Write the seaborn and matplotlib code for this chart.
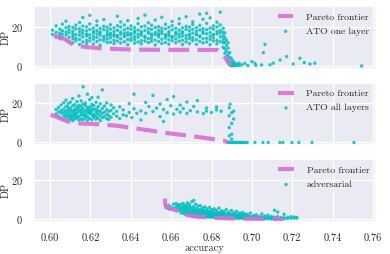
import pandas as pd
import matplotlib
matplotlib.use("Agg")
import matplotlib.pyplot as plt
import seaborn as sns

# pareto frontiers (accuracy, DP)
one_front_acc = [0.6020, 0.6045, 0.6075, 0.6090, 0.6110, 0.6140, 0.6180, 0.6250, 0.6330,
                 0.6420, 0.6550, 0.6700, 0.6830, 0.6850, 0.6870, 0.6885, 0.6895]
one_front_dp = [15.4, 14.6, 13.6, 12.4, 11.2, 10.2, 9.6, 9.0, 8.6,
                8.3, 8.2, 8.2, 8.1, 6.5, 4.0, 2.0, 0.2]

all_front_acc = [0.6003, 0.6030, 0.6053, 0.6080, 0.6102, 0.6152, 0.6243, 0.6333, 0.6416,
                 0.6530, 0.6578, 0.6677, 0.6776, 0.6858, 0.6883]
all_front_dp = [14.1, 13.2, 12.1, 11.0, 10.3, 9.7, 9.3, 8.5, 7.3,
                5.6, 4.8, 3.6, 2.2, 1.0, 0.0]

adv_front_acc = [0.6570, 0.6570, 0.6572, 0.6586, 0.6600, 0.6627, 0.6652, 0.6700, 0.6726,
                 0.6826, 0.6940, 0.7156]
adv_front_dp = [10.4, 8.5, 7.0, 5.6, 5.2, 4.4, 2.8, 1.6, 1.2, 0.6, 0.2, 0.05]

# ATO one layer runs: accuracy -> DP values read column by column
one_layer_cols = [
    (0.6012, [16.0, 18.2]),
    (0.6030, [14.8, 17.1, 20.4]),
    (0.6048, [15.5, 13.9, 18.8, 16.7]),
    (0.6061, [17.9, 14.4, 16.2, 21.3]),
    (0.6079, [13.2, 15.8, 19.5, 17.3, 22.8]),
    (0.6094, [12.5, 16.9, 14.6, 18.4, 20.1]),
    (0.6113, [11.8, 15.2, 17.7, 13.9, 19.6, 16.4]),
    (0.6128, [14.1, 18.9, 12.9, 16.0, 20.8]),
    (0.6146, [10.9, 15.7, 17.4, 13.5, 19.0, 22.1]),
    (0.6162, [14.8, 16.6, 12.2, 18.1, 20.3, 24.7]),
    (0.6181, [13.0, 17.8, 15.3, 19.9, 11.5, 16.1]),
    (0.6197, [15.9, 12.7, 18.6, 14.2, 21.4, 25.8]),
    (0.6215, [16.8, 13.6, 19.3, 11.2, 17.5, 15.0]),
    (0.6232, [14.5, 18.0, 12.4, 20.7, 16.3, 22.9]),
    (0.6248, [17.2, 13.3, 15.6, 19.1, 10.6, 16.9]),
    (0.6266, [15.1, 18.5, 12.8, 20.2, 14.0, 23.6]),
    (0.6283, [16.4, 13.7, 17.9, 11.9, 19.7, 15.4]),
    (0.6299, [14.3, 18.8, 12.1, 16.7, 21.0, 15.8]),
    (0.6317, [17.6, 13.1, 19.4, 15.2, 11.4, 16.0]),
    (0.6334, [15.5, 12.6, 18.2, 20.5, 14.7, 25.3]),
    (0.6350, [16.2, 13.8, 19.8, 11.7, 17.3, 22.4]),
    (0.6368, [14.9, 18.4, 12.3, 16.6, 20.9, 15.3]),
    (0.6385, [17.0, 13.4, 19.2, 15.7, 10.8, 23.1]),
    (0.6401, [15.8, 12.9, 18.7, 14.1, 20.4, 16.5]),
    (0.6419, [16.9, 13.5, 17.8, 11.6, 19.5, 15.0]),
    (0.6436, [14.6, 18.3, 12.2, 16.1, 21.6, 24.2]),
    (0.6452, [17.4, 13.0, 19.9, 15.6, 11.3, 16.8]),
    (0.6470, [15.2, 12.7, 18.0, 20.3, 14.4, 25.9]),
    (0.6487, [16.7, 13.9, 19.0, 11.9, 17.2, 22.0]),
    (0.6503, [14.0, 18.6, 12.5, 16.3, 20.8, 15.5]),
    (0.6521, [17.1, 13.2, 19.6, 15.9, 10.7, 23.4]),
    (0.6538, [15.7, 12.4, 18.1, 14.8, 20.0, 16.4]),
    (0.6554, [16.5, 13.6, 17.7, 11.5, 19.3, 24.8]),
    (0.6572, [14.2, 18.9, 12.0, 16.0, 21.2, 15.1]),
    (0.6589, [17.5, 13.3, 19.7, 15.4, 11.1, 16.6]),
    (0.6605, [15.0, 12.8, 18.4, 20.6, 14.5, 22.7]),
    (0.6623, [16.8, 13.7, 19.1, 11.8, 17.0, 15.7]),
    (0.6640, [14.7, 18.2, 12.6, 16.2, 21.5, 24.0]),
    (0.6656, [17.3, 13.1, 19.4, 15.3, 10.9, 16.9]),
    (0.6674, [15.6, 12.3, 18.6, 14.0, 20.2, 25.1]),
    (0.6691, [16.1, 13.8, 17.9, 11.4, 19.8, 15.2]),
    (0.6707, [14.4, 18.7, 12.9, 16.7, 21.1, 22.5]),
    (0.6725, [17.7, 13.4, 19.5, 15.8, 11.0, 16.3]),
    (0.6742, [15.3, 12.5, 18.3, 20.7, 14.9, 26.4]),
    (0.6758, [16.6, 13.9, 19.0, 11.7, 17.4, 23.8]),
    (0.6776, [14.1, 18.5, 12.2, 16.4, 21.7, 26.8]),
    (0.6793, [17.0, 13.5, 19.3, 15.1, 10.8, 24.5]),
    (0.6809, [15.9, 12.7, 18.8, 14.3, 20.4, 16.0]),
    (0.6827, [16.3, 13.0, 17.6, 11.3, 19.9, 22.3]),
    (0.6843, [14.8, 18.1, 12.4, 16.8, 20.9, 27.4]),
    (0.6858, [15.4, 17.2, 13.6, 19.2, 11.9, 9.5]),
    (0.6866, [14.5, 12.0, 16.8, 8.8, 6.5]),
    (0.6874, [10.6, 7.4, 4.9, 13.2, 2.8]),
    (0.6882, [9.1, 5.6, 3.4, 1.5, 11.8]),
    (0.6890, [6.8, 2.1, 0.6, 4.2, 1.0]),
    (0.6898, [0.3, 1.8, 3.9, 0.1, 0.8]),
    (0.6906, [0.2, 1.2, 0.5, 2.6]),
    (0.6915, [0.4, 0.1, 1.6]),
    (0.6925, [0.3, 0.9]),
    (0.6937, [0.2, 1.4]),
    (0.6950, [0.5]),
    (0.6965, [1.3]),
    (0.6980, [0.2]),
    (0.7000, [2.2]),
    (0.7015, [1.3]),
    (0.7020, [0.3]),
    (0.7048, [0.5]),
    (0.7057, [6.8]),
    (0.7065, [11.0]),
    (0.7090, [0.6]),
    (0.7106, [1.4]),
    (0.7140, [3.0]),
    (0.7172, [4.8]),
    (0.7205, [1.0]),
    (0.7238, [3.9]),
    (0.7260, [1.7]),
    (0.7288, [1.0]),
    (0.7312, [1.4]),
    (0.7544, [0.0]),
]

# ATO all layers runs
all_layers_cols = [
    (0.6030, [14.5, 16.8]),
    (0.6042, [13.2, 17.9, 15.6]),
    (0.6055, [12.4, 14.9, 16.3, 19.2]),
    (0.6068, [11.8, 13.7, 15.4, 17.1, 20.3]),
    (0.6079, [12.9, 14.3, 16.0, 18.4, 21.6]),
    (0.6090, [11.5, 13.4, 15.1, 16.7, 18.0, 19.8]),
    (0.6101, [12.2, 14.0, 15.8, 17.4, 20.6, 13.1]),
    (0.6112, [11.1, 12.8, 14.6, 16.2, 18.7, 22.4]),
    (0.6122, [11.9, 13.6, 15.3, 17.0, 19.3, 14.2]),
    (0.6133, [12.5, 14.8, 16.5, 18.1, 20.9, 13.0]),
    (0.6143, [11.4, 13.3, 15.9, 17.6, 19.0, 23.7]),
    (0.6154, [12.0, 14.1, 16.6, 18.5, 21.2, 15.0]),
    (0.6164, [11.7, 13.8, 15.5, 17.3, 19.6, 28.4]),
    (0.6175, [12.6, 14.4, 16.1, 18.8, 20.1, 13.5]),
    (0.6185, [11.3, 13.1, 15.2, 17.8, 24.6, 16.9]),
    (0.6196, [12.3, 14.7, 16.4, 18.2, 21.8, 15.6]),
    (0.6207, [11.6, 13.9, 15.7, 17.5, 19.4, 22.9]),
    (0.6217, [12.8, 14.2, 16.8, 18.9, 13.4]),
    (0.6228, [11.9, 13.5, 15.4, 17.1, 20.5]),
    (0.6238, [12.4, 14.6, 16.2, 18.3, 23.1]),
    (0.6249, [11.2, 13.8, 15.9, 19.7]),
    (0.6259, [12.7, 14.9, 17.4, 26.8]),
    (0.6270, [13.2, 15.5, 18.6]),
    (0.6281, [12.1, 14.3, 16.7, 20.2]),
    (0.6291, [13.7, 15.8, 11.8]),
    (0.6302, [12.9, 16.4, 19.1]),
    (0.6315, [14.6, 17.7]),
    (0.6330, [13.4, 15.9]),
    (0.6345, [12.2, 18.2]),
    (0.6362, [16.6, 14.1]),
    (0.6378, [13.6]),
    (0.6392, [15.3, 19.8]),
    (0.6405, [12.7]),
    (0.6416, [24.6, 17.2]),
    (0.6430, [14.9]),
    (0.6450, [11.5, 16.1]),
    (0.6474, [14.9, 20.4]),
    (0.6490, [18.3]),
    (0.6510, [24.0, 15.8]),
    (0.6528, [17.5]),
    (0.6545, [13.2, 19.6]),
    (0.6562, [10.7, 16.8]),
    (0.6580, [21.9, 15.2]),
    (0.6598, [18.7]),
    (0.6612, [14.5, 23.4]),
    (0.6628, [16.9]),
    (0.6645, [19.1, 15.4]),
    (0.6660, [17.3]),
    (0.6678, [14.8, 20.6]),
    (0.6695, [16.2]),
    (0.6712, [18.4]),
    (0.6730, [15.6, 21.3]),
    (0.6760, [14.7]),
    (0.6775, [17.6, 16.0]),
    (0.6800, [15.3]),
    (0.6825, [18.1, 16.6]),
    (0.6848, [15.9]),
    (0.6880, [0.0]),
    (0.6886, [0.0]),
    (0.6888, [17.7, 13.6, 7.6, 3.4]),
    (0.6892, [19.5, 0.0]),
    (0.6899, [0.0]),
    (0.6900, [15.2, 9.7, 4.2, 1.7]),
    (0.6906, [0.0]),
    (0.6910, [16.0, 12.0]),
    (0.6912, [0.0]),
    (0.6919, [0.0]),
    (0.6925, [0.0]),
    (0.6932, [0.0]),
    (0.6938, [0.0]),
    (0.6945, [0.0]),
    (0.6952, [0.0]),
    (0.6960, [0.0]),
    (0.6968, [0.0]),
    (0.6977, [0.0]),
    (0.7015, [0.0]),
    (0.7055, [0.0]),
    (0.7081, [0.0]),
    (0.7139, [0.0]),
    (0.7154, [0.0]),
    (0.7199, [0.0]),
    (0.7233, [0.0]),
    (0.7298, [0.0]),
    (0.7506, [0.0]),
]

# adversarial runs
adversarial_cols = [
    (0.6575, [5.8, 6.6]),
    (0.6588, [5.2, 7.0]),
    (0.6600, [5.0, 6.1]),
    (0.6612, [5.5, 7.6]),
    (0.6625, [4.7, 6.3, 7.9]),
    (0.6636, [4.4, 5.6, 7.2, 6.8]),
    (0.6648, [3.3, 4.9, 6.0, 7.5]),
    (0.6659, [2.9, 4.1, 5.3, 6.5, 8.0]),
    (0.6670, [2.5, 3.6, 4.8, 5.9, 7.1]),
    (0.6681, [2.2, 3.2, 4.4, 5.5, 6.7, 8.3]),
    (0.6692, [2.0, 2.9, 4.0, 5.1, 6.2, 7.4]),
    (0.6703, [1.8, 2.7, 3.7, 4.7, 5.8, 8.9]),
    (0.6712, [1.7, 2.5, 3.5, 4.5, 6.4, 9.5]),
    (0.6722, [1.6, 2.4, 3.3, 4.3, 5.4, 7.6]),
    (0.6733, [1.4, 2.2, 3.0, 4.0, 5.0, 6.5]),
    (0.6744, [1.3, 2.0, 2.8, 3.7, 4.8, 6.9]),
    (0.6755, [1.2, 1.9, 2.7, 3.5, 4.6, 5.7]),
    (0.6766, [1.1, 1.8, 2.6, 3.4, 4.4, 6.2]),
    (0.6778, [1.1, 1.7, 2.4, 3.2, 4.2, 5.3]),
    (0.6790, [1.0, 1.6, 2.3, 3.0, 3.9, 5.9]),
    (0.6801, [0.9, 1.5, 2.2, 2.9, 3.7, 4.8]),
    (0.6813, [0.9, 1.4, 2.1, 2.8, 3.6, 5.2]),
    (0.6825, [0.8, 1.3, 2.0, 2.6, 3.4, 4.5]),
    (0.6837, [0.8, 1.2, 1.9, 2.5, 3.3, 5.6]),
    (0.6849, [0.7, 1.2, 1.8, 2.4, 3.1, 4.2]),
    (0.6861, [0.7, 1.1, 1.7, 2.3, 2.9, 3.9]),
    (0.6873, [0.6, 1.0, 1.6, 2.2, 2.8, 4.9]),
    (0.6886, [0.6, 1.0, 1.5, 2.0, 2.6, 3.6]),
    (0.6899, [0.5, 0.9, 1.4, 1.9, 2.5, 4.4]),
    (0.6912, [0.5, 0.9, 1.3, 1.8, 2.4, 3.3]),
    (0.6925, [0.4, 0.8, 1.2, 1.7, 2.2, 3.9]),
    (0.6938, [0.4, 0.8, 1.2, 1.6, 2.1, 2.9]),
    (0.6952, [0.4, 0.7, 1.1, 1.5, 2.0, 3.4]),
    (0.6965, [0.3, 0.7, 1.0, 1.4, 1.9, 2.7]),
    (0.6979, [0.3, 0.6, 1.0, 1.3, 2.4]),
    (0.6993, [0.3, 0.6, 0.9, 1.3, 3.1]),
    (0.7007, [0.3, 0.6, 0.9, 1.2, 1.8]),
    (0.7021, [0.2, 0.5, 0.8, 1.2, 2.2]),
    (0.7036, [0.2, 0.5, 0.8, 1.4]),
    (0.7050, [0.2, 0.5, 0.7, 1.1, 2.6]),
    (0.7065, [0.2, 0.4, 0.7, 1.6]),
    (0.7080, [0.2, 0.4, 0.9, 2.0]),
    (0.7096, [0.1, 0.4, 0.7, 1.3]),
    (0.7112, [0.1, 0.4, 1.0, 4.5]),
    (0.7128, [0.1, 0.5, 1.2, 3.6]),
    (0.7145, [0.1, 0.4, 0.8]),
    (0.7160, [0.2, 0.6, 2.4]),
    (0.7178, [0.3, 0.9]),
    (0.7195, [0.4, 1.2]),
    (0.7210, [0.5, 1.0]),
    (0.7222, [0.5, 0.8]),
]

x_ticks = [0.60, 0.62, 0.64, 0.66, 0.68, 0.70, 0.72, 0.74, 0.76]
y_ticks = [0, 20]


def to_frame(cols):
    rows = [(a, d) for a, ds in cols for d in ds]
    return pd.DataFrame(rows, columns=['accuracy', 'DP'])


sns.set_theme(style="darkgrid")
plt.rcParams['font.family'] = 'serif'
plt.rcParams['font.serif'] = ['cmr10']
plt.rcParams['mathtext.fontset'] = 'cm'
plt.rcParams['axes.formatter.use_mathtext'] = True

fig, axes = plt.subplots(3, 1, figsize=(3.9, 2.54), dpi=100, sharex=True, sharey=True)
fig.subplots_adjust(left=0.087, right=0.964, top=0.976, bottom=0.126, hspace=0.22)

panels = [
    (one_front_acc, one_front_dp, one_layer_cols, 'ATO one layer'),
    (all_front_acc, all_front_dp, all_layers_cols, 'ATO all layers'),
    (adv_front_acc, adv_front_dp, adversarial_cols, 'adversarial'),
]

for ax, (f_acc, f_dp, cols, name) in zip(axes, panels):
    front = pd.DataFrame({'accuracy': f_acc, 'DP': f_dp})
    sns.lineplot(data=front, x='accuracy', y='DP', ax=ax, estimator=None, sort=False,
                 color='#D670D6', lw=3, alpha=0.9, dashes=False, label='Pareto frontier')
    ax.lines[-1].set_dashes((5, 2))
    sns.scatterplot(data=to_frame(cols), x='accuracy', y='DP', ax=ax, color='#00BFBF',
                    s=6, alpha=0.85, edgecolor='none', label=name)
    ax.set_ylabel('DP', fontsize=7.5)
    ax.yaxis.set_label_coords(-0.068, 0.5)
    ax.set_xlabel('')
    ax.set_yticks(y_ticks)
    ax.tick_params(labelsize=7.5, pad=2)
    ax.legend(loc='upper right', frameon=False, fontsize=7, handlelength=1.6,
              markerscale=1.0, borderaxespad=0.3, labelspacing=0.55, handletextpad=1.3)

axes[-1].set_xticks(x_ticks)
axes[-1].set_xticklabels(['%.2f' % t for t in x_ticks])
axes[-1].set_xlim(0.592, 0.7615)
axes[-1].set_ylim(-1.5, 30.5)
axes[-1].set_xlabel('accuracy', fontsize=7.5, labelpad=1)

fig.savefig('out.png', dpi=100)
